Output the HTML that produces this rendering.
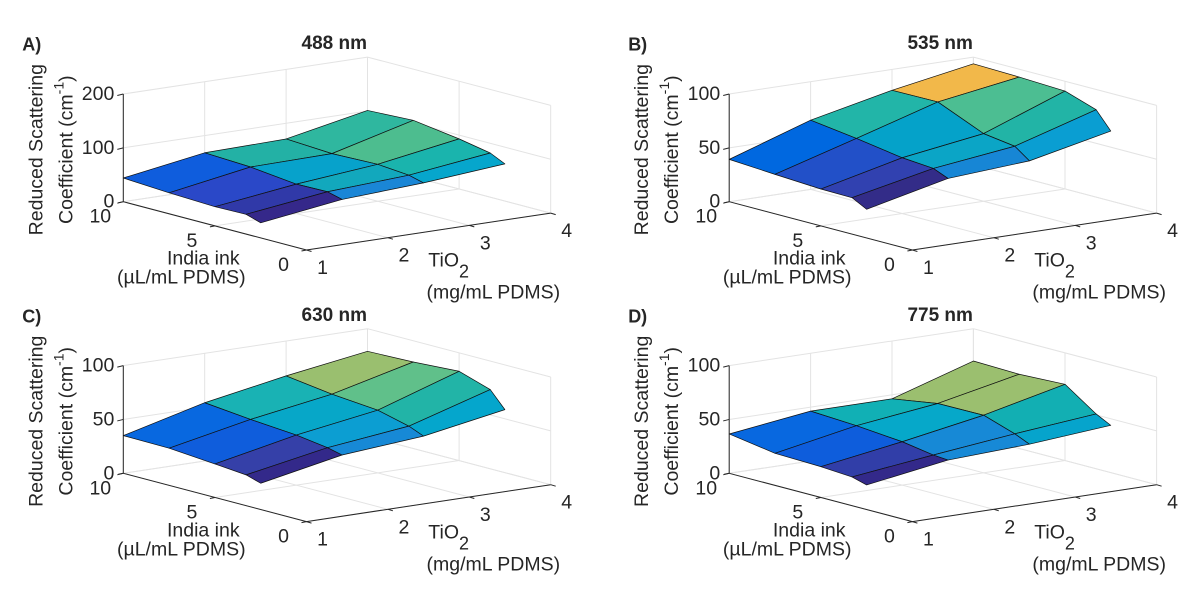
<!DOCTYPE html>
<html>
<head>
<meta charset="utf-8">
<style>
  html,body{margin:0;padding:0;background:#fff;}
  svg{display:block;}
  text{font-family:"Liberation Sans",Arial,sans-serif;fill:#262626;}
</style>
</head>
<body>
<svg id="fig" width="1200" height="595" viewBox="0 0 1200 595" xmlns="http://www.w3.org/2000/svg"></svg>
<script>
// ---- data ----
const tio2Values = [1, 2, 3, 4];
const inkValues = [10, 7.5, 5, 3.3, 2.5];
const tio2Ticks = [1, 2, 3, 4];
const inkTicks = [10, 5, 0];
const zTicksA = [0, 100, 200];
const zTicksBCD = [0, 50, 100];
// rows: TiO2 = 1..4 ; cols: ink = 10, 7.5, 5, 3.3, 2.5
const zA = [
  [44, 39, 35.6, 36.7, 28],
  [68, 64, 54.6, 55.7, 48.6],
  [70.8, 66, 68.6, 63.6, 56.5],
  [101, 105, 93, 82, 69]
];
const zB = [
  [39.3, 36.6, 34.2, 33.8, 26.6],
  [64.3, 58.5, 51.8, 49.5, 43.8],
  [80.6, 81, 62.8, 58.7, 48.7],
  [93.8, 92.7, 90.9, 81.2, 65]
];
const zC = [
  [35, 34.5, 31.1, 28.6, 24.4],
  [54.1, 49.8, 46.5, 42.4, 39.2],
  [67.6, 61.8, 58.2, 51, 45.3],
  [79, 80.3, 82.9, 73.5, 58.5]
];
const zD = [
  [36.5, 29.8, 28.6, 26.7, 22.8],
  [46.3, 44, 40.3, 35.6, 34.5],
  [46.3, 53.2, 53.5, 43.9, 37.8],
  [70, 68.9, 70.8, 50.9, 43.9]
];
// ---- style (facet colours per cell) ----
const colA = [["#0f5ddd","#2a48c8","#3039a8","#35288a"],["#23b1a5","#07a2cb","#12a8bd","#1a86d6"],["#2fb79f","#4dbd8f","#1ab4ad","#06a6cc"]];
const colB = [["#0068e0","#2250c8","#3141b0","#332c88"],["#22b5a8","#05a2c9","#0ba5c6","#1786d5"],["#f2b84a","#4cbe92","#22b4a6","#0a9ed2"]];
const colC = [["#0868e0","#0f5ddc","#3540a8","#33298a"],["#19b2b4","#07a7c8","#0c9ed2","#1789d6"],["#9abf6f","#60c08a","#22b4a7","#05a6cc"]];
const colD = [["#0868e0","#0e5ddc","#313ea8","#33298a"],["#11b0b5","#06a8c9","#1789d6","#1789d6"],["#9bbf6f","#9bbf6f","#12afb3","#06a4cc"]];

const NS = "http://www.w3.org/2000/svg";
const svg = document.getElementById("fig");
const EX = [81.4, -12.3], EY = [18.32, 4.83], ZH = 107.7;
const FS = 19.5;

function mk(tag, attrs, parent, name, inter) {
  const el = document.createElementNS(NS, tag);
  for (const k in attrs) el.setAttribute(k, attrs[k]);
  
  
  (parent || svg).appendChild(el);
  return el;
}
function txt(x, y, s, size, parent, name, extra) {
  const a = {x: x, y: y, 'font-size': size, 'text-anchor': 'middle', 'dominant-baseline': 'central'};
  if (extra) for (const k in extra) a[k] = extra[k];
  const el = mk('text', a, parent, name, false);
  el.textContent = s;
  return el;
}

const panels = [
  {id:'a', ox:123.3, oy:201.7, zmax:200, zt:zTicksA, z:zA, col:colA, letter:'A)', title:'488 nm'},
  {id:'b', ox:729.2, oy:201.7, zmax:100, zt:zTicksBCD, z:zB, col:colB, letter:'B)', title:'535 nm'},
  {id:'c', ox:123.3, oy:473.3, zmax:100, zt:zTicksBCD, z:zC, col:colC, letter:'C)', title:'630 nm'},
  {id:'d', ox:729.2, oy:473.3, zmax:100, zt:zTicksBCD, z:zD, col:colD, letter:'D)', title:'775 nm'}
];

panels.forEach(p => {
  const g = mk('g', {}, svg, 'panel-' + p.id, false);
  const P = (t, i, z) => [
    p.ox + (t - 1) * EX[0] + (10 - i) * EY[0],
    p.oy + (t - 1) * EX[1] + (10 - i) * EY[1] - z * ZH / p.zmax
  ];
  const line = (a, b, stroke, w, name) => mk('line', {x1:a[0], y1:a[1], x2:b[0], y2:b[1], stroke:stroke, 'stroke-width':w}, g, name, false);
  const grid = '#e3e3e3';
  p.zt.forEach(z => {
    line(P(1, 10, z), P(4, 10, z), grid, 1, 'z-gridline-back');
    line(P(4, 10, z), P(4, 0, z), grid, 1, 'z-gridline-side');
  });
  tio2Ticks.forEach(t => {
    line(P(t, 10, 0), P(t, 10, p.zmax), grid, 1, 'tio2-gridline-wall');
    line(P(t, 10, 0), P(t, 0, 0), grid, 1, 'tio2-gridline-floor');
  });
  inkTicks.forEach(i => {
    line(P(4, i, 0), P(4, i, p.zmax), grid, 1, 'ink-gridline-wall');
    line(P(1, i, 0), P(4, i, 0), grid, 1, 'ink-gridline-floor');
  });
  line(P(1, 10, 0), P(1, 10, p.zmax), '#262626', 1, 'z-axis-line');
  line(P(1, 10, 0), P(1, 0, 0), '#262626', 1, 'ink-axis-line');
  line(P(1, 0, 0), P(4, 0, 0), '#262626', 1, 'tio2-axis-line');
  p.zt.forEach(z => {
    const a = P(1, 10, z);
    line(a, [a[0] - 6, a[1] + 1.5], '#262626', 1, 'z-tick');
    txt(a[0] - 9, a[1], String(z), FS, g, 'z-tick-label', {'text-anchor': 'end'});
  });
  inkTicks.forEach(i => {
    const a = P(1, i, 0);
    line(a, [a[0] - 5, a[1] + 1], '#262626', 1, 'ink-tick');
    txt(a[0] - 23, a[1] + 15, String(i), FS, g, 'ink-tick-label');
  });
  tio2Ticks.forEach(t => {
    const a = P(t, 0, 0);
    line(a, [a[0] + 5, a[1] + 1.5], '#262626', 1, 'tio2-tick');
    txt(a[0] + 16, a[1] + 18, String(t), FS, g, 'tio2-tick-label');
  });
  const cells = [];
  for (let r = 0; r < tio2Values.length - 1; r++)
    for (let c = 0; c < inkValues.length - 1; c++) cells.push([r, c]);
  cells.sort((a, b) => (b[0] + 3 - b[1]) - (a[0] + 3 - a[1]));
  cells.forEach(([r, c]) => {
    const pts = [
      P(tio2Values[r], inkValues[c], p.z[r][c]),
      P(tio2Values[r + 1], inkValues[c], p.z[r + 1][c]),
      P(tio2Values[r + 1], inkValues[c + 1], p.z[r + 1][c + 1]),
      P(tio2Values[r], inkValues[c + 1], p.z[r][c + 1])
    ];
    mk('polygon', {points: pts.map(q => q.join(',')).join(' '), fill: p.col[r][c], stroke: '#111', 'stroke-width': 0.7, 'stroke-linejoin': 'round'}, g, 'surface-cell', false);
  });
  txt(p.ox - 101, p.oy - 157, p.letter, 18, g, 'panel-letter', {'text-anchor': 'start', 'font-weight': 'bold'});
  txt(p.ox + 211, p.oy - 158, p.title, 19, g, 'panel-title', {'font-weight': 'bold'});
  txt(p.ox - 87, p.oy - 52, 'Reduced Scattering', FS, g, 'z-axis-title-line1', {transform: 'rotate(-90 ' + (p.ox - 87) + ' ' + (p.oy - 52) + ')'});
  const yl2 = txt(p.ox - 57, p.oy - 52, 'Coefficient (cm', FS, g, 'z-axis-title-line2', {transform: 'rotate(-90 ' + (p.ox - 57) + ' ' + (p.oy - 52) + ')'});
  const sup = document.createElementNS(NS, 'tspan');
  
  
  sup.setAttribute('dy', '-8'); sup.setAttribute('font-size', '14'); sup.textContent = '-1';
  yl2.appendChild(sup);
  const cl = document.createElementNS(NS, 'tspan');
  
  
  cl.setAttribute('dy', '8'); cl.textContent = ')';
  yl2.appendChild(cl);
  txt(p.ox + 80, p.oy + 57, 'India ink', FS, g, 'ink-axis-title');
  txt(p.ox + 58, p.oy + 76, '(µL/mL PDMS)', FS, g, 'ink-axis-units');
  const tt = txt(p.ox + 305, p.oy + 59, 'TiO', FS, g, 'tio2-axis-title', {'text-anchor': 'start'});
  const sub = document.createElementNS(NS, 'tspan');
  
  
  sub.setAttribute('dy', '11'); sub.setAttribute('font-size', '18'); sub.textContent = '2';
  tt.appendChild(sub);
  txt(p.ox + 370, p.oy + 91, '(mg/mL PDMS)', FS, g, 'tio2-axis-units');
});
</script>
</body>
</html>
